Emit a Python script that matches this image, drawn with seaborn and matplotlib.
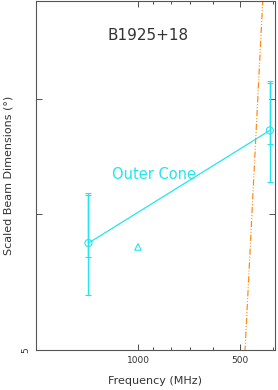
import matplotlib
matplotlib.use("Agg")
import matplotlib.pyplot as plt
import seaborn as sns
import pandas as pd
from matplotlib.ticker import FixedLocator, NullLocator, FixedFormatter, NullFormatter

# data
freq = [1400, 408]            # MHz, outer cone points
width = [5.77, 6.71]          # scaled beam dimension (deg)
err_lo = [5.38, 6.26]
err_hi = [6.17, 7.17]
inner_lo = [5.66, 6.59]       # second (shorter) error bars
inner_hi = [6.15, 7.15]
tri_freq = [1000]
tri_width = [5.74]
ref_freq = [483, 428]         # orange reference line
ref_width = [5.0, 8.0]

cyan = "#22e5ee"
orange = "#ff8c1a"
ink = "#333333"

sns.set_style("ticks")
plt.rcParams["font.family"] = ["DejaVu Sans"]

fig = plt.figure(figsize=(2.78, 3.90), dpi=100)
ax = fig.add_axes([36 / 278, 40 / 390, 239 / 278, 349 / 390])

df = pd.DataFrame({"freq": freq, "width": width})
sns.lineplot(data=df, x="freq", y="width", color=cyan, lw=0.9, ax=ax)
sns.scatterplot(data=df, x="freq", y="width", marker="o", s=26,
                facecolor="none", edgecolor=cyan, linewidth=0.8, ax=ax, zorder=3)
ax.errorbar(freq, width,
            yerr=[[w - l for w, l in zip(width, err_lo)], [h - w for w, h in zip(width, err_hi)]],
            fmt="none", ecolor=cyan, elinewidth=1.0, capsize=2.5, capthick=0.8)
mid = [(a + b) / 2 for a, b in zip(inner_lo, inner_hi)]
ax.errorbar(freq, mid, yerr=[[m - l for m, l in zip(mid, inner_lo)], [h - m for m, h in zip(mid, inner_hi)]],
            fmt="none", ecolor=cyan, elinewidth=1.0, capsize=2.5, capthick=0.8)
sns.scatterplot(x=tri_freq, y=tri_width, marker="^", s=22, facecolor="none",
                edgecolor=cyan, linewidth=0.8, ax=ax)
sns.lineplot(x=ref_freq, y=ref_width, color=orange, lw=0.9,
             linestyle=(0, (5, 1.5, 0.8, 1.5, 0.8, 1.5)), ax=ax)

ax.set_xscale("log")
ax.set_yscale("log")
ax.set_xlim(2000, 394)
ax.set_ylim(5, 7.98)

ax.xaxis.set_major_locator(FixedLocator([500, 1000]))
ax.xaxis.set_major_formatter(FixedFormatter(["500", "1000"]))
ax.xaxis.set_minor_locator(FixedLocator([400, 600, 700, 800, 900]))
ax.xaxis.set_minor_formatter(NullFormatter())
ax.yaxis.set_major_locator(FixedLocator([5, 6, 7]))
ax.yaxis.set_major_formatter(FixedFormatter(["5", "", ""]))
ax.yaxis.set_minor_locator(NullLocator())
ax.yaxis.set_minor_formatter(NullFormatter())
ax.tick_params(which="both", direction="in", top=True, right=True,
               labelsize=6.5, labelcolor=ink, color=ink, width=0.6)
ax.tick_params(which="major", length=4, pad=4)
ax.tick_params(which="minor", length=2.5)
for lab in ax.get_yticklabels():
    lab.set_rotation(90)
    lab.set_va("center")

for s in ax.spines.values():
    s.set_color("#555555")
    s.set_linewidth(0.8)

ax.set_xlabel("Frequency (MHz)", fontsize=8, color=ink, labelpad=8)
ax.set_ylabel("Scaled Beam Dimensions (\u00b0)", fontsize=8, color=ink, labelpad=6)

ax.text(0.469, 0.90, "B1925+18", transform=ax.transAxes, ha="center", va="center",
        fontsize=11, color=ink)
ax.text(0.494, 0.504, "Outer Cone", transform=ax.transAxes, ha="center", va="center",
        fontsize=10.5, color=cyan)

fig.savefig("out.png", dpi=100)
